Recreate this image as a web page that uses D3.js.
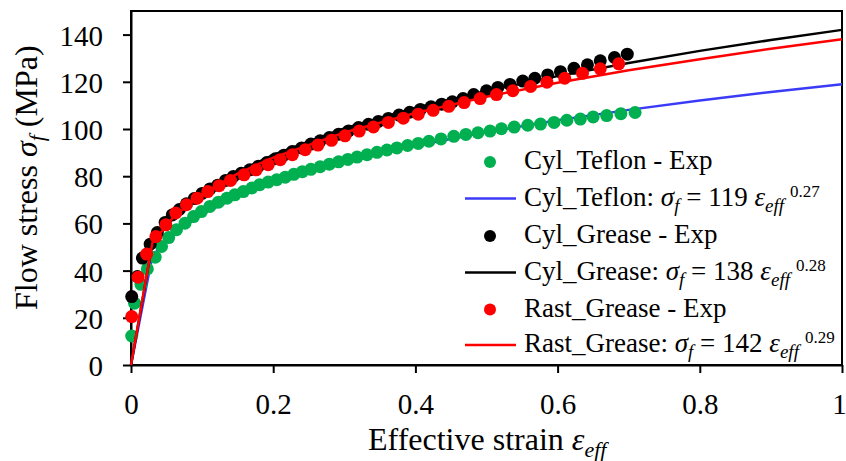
<!DOCTYPE html>
<html><head><meta charset="utf-8">
<script src="https://cdn.jsdelivr.net/npm/d3@7"></script>
<style>
html,body{margin:0;padding:0;background:#fff;}
svg{display:block;font-family:"Liberation Serif","Times New Roman",serif;}
</style></head>
<body><svg id="chart" width="846" height="461"></svg>
<script>
// ---- data ----
const xTicks = [0, 0.2, 0.4, 0.6, 0.8, 1];
const xTickLabels = ["0", "0.2", "0.4", "0.6", "0.8", "1"];
const yTicks = [0, 20, 40, 60, 80, 100, 120, 140];

const tefStrain = [0.001,0.005,0.014,0.023,0.034,0.043,0.053,0.064,0.076,0.088,0.099,0.111,0.123,0.135,0.146,0.158,0.170,0.181,0.193,0.205,0.217,0.229,0.241,0.253,0.266,0.279,0.292,0.305,0.318,0.332,0.346,0.360,0.374,0.389,0.404,0.419,0.436,0.454,0.471,0.488,0.505,0.521,0.539,0.558,0.576,0.595,0.613,0.632,0.650,0.669,0.689,0.709];
const tefStress = [12.3,26.2,34.2,40.7,45.7,50.2,54.0,57.3,60.1,62.9,65.0,67.2,69.0,70.7,72.1,73.5,75.0,76.4,77.5,78.5,79.6,80.8,81.9,82.9,84.0,85.1,86.1,87.1,88.1,89.1,90.1,91.1,92.0,93.0,93.9,94.8,95.8,96.9,97.7,98.4,99.1,100.1,100.8,101.6,102.1,102.8,103.7,104.2,105.1,105.7,106.5,107.0];

const cylStrain = [0.001,0.009,0.016,0.027,0.037,0.048,0.058,0.068,0.078,0.089,0.100,0.111,0.122,0.133,0.144,0.155,0.167,0.179,0.191,0.203,0.215,0.227,0.240,0.253,0.266,0.279,0.292,0.306,0.320,0.334,0.348,0.362,0.377,0.392,0.407,0.422,0.437,0.452,0.467,0.482,0.500,0.516,0.533,0.551,0.568,0.586,0.604,0.623,0.642,0.660,0.680,0.698];
const cylStress = [29.0,37.5,45.3,51.2,56.1,60.4,63.6,65.9,68.3,70.5,72.7,74.6,76.2,78.2,79.9,81.2,82.7,84.2,85.8,87.4,88.9,90.5,92.0,93.6,95.0,96.4,97.8,99.2,100.6,102.0,103.2,104.5,105.9,107.1,108.3,109.4,110.5,111.5,112.9,114.6,116.2,117.6,118.9,120.3,121.5,122.9,124.3,125.7,127.2,128.9,130.3,131.7];

const rastStrain = [0.001,0.010,0.022,0.035,0.049,0.063,0.078,0.093,0.108,0.124,0.140,0.159,0.176,0.193,0.210,0.227,0.245,0.263,0.282,0.301,0.321,0.341,0.362,0.383,0.404,0.425,0.447,0.4685,0.491,0.514,0.537,0.562,0.585,0.610,0.635,0.660,0.686];
const rastStress = [20.5,37.2,47.0,54.4,59.4,64.4,67.9,70.7,73.5,76.0,78.2,80.6,82.7,84.9,87.0,89.1,91.2,93.2,95.2,97.1,99.1,100.9,102.8,104.6,106.3,107.9,109.6,111.2,112.9,114.6,116.2,118.0,119.8,121.5,123.6,125.5,127.6];

const fitStrain = [0, 0.03, 0.06, 0.1, 0.15, 0.2, 0.3, 0.4, 0.5, 0.6, 0.7, 0.8, 0.9, 1.0];
const fitBlue  = [0, 46.2, 55.7, 63.9, 71.3, 77.1, 86.0, 92.9, 98.7, 103.7, 108.1, 112.1, 115.7, 119.0];
const fitBlack = [0, 51.4, 62.8, 72.8, 81.9, 89.0, 100.2, 108.9, 116.1, 122.4, 128.0, 133.1, 137.7, 142.0];
const fitRed   = [0, 51.7, 62.8, 72.4, 81.1, 87.9, 98.5, 106.8, 113.7, 119.6, 124.9, 129.6, 134.0, 138.0];

const legendNames = ["Cyl_Teflon - Exp", "Cyl_Teflon: ", "Cyl_Grease - Exp", "Cyl_Grease: ", "Rast_Grease - Exp", "Rast_Grease: "];
const legendK = [null, "119", null, "138", null, "142"];
const legendN = [null, "0.27", null, "0.28", null, "0.29"];

const GREEN = "#00b050", BLUE = "#3b3bf7", BLACK = "#000000", RED = "#ff0000";

// ---- chart ----
const svg = d3.select("#chart");
const L = 131, R = 842, T = 11, B = 365;
const x = d3.scaleLinear().domain([0, 1]).range([L, R]);
const y = d3.scaleLinear().domain([0, 150]).range([B, T]);

// frame
svg.append("rect").attr("x", L).attr("y", T).attr("width", R - L).attr("height", B - T)
  .attr("fill", "none").attr("stroke", "#000").attr("stroke-width", 2);

const xAxis = svg.append("g").attr("transform", `translate(0,${B})`)
  .call(d3.axisBottom(x).tickValues(xTicks).tickFormat((d, i) => xTickLabels[i]).tickSize(8).tickSizeOuter(0).tickPadding(20));
const yAxis = svg.append("g").attr("transform", `translate(${L},0)`)
  .call(d3.axisLeft(y).tickValues(yTicks).tickSize(8).tickSizeOuter(0).tickPadding(20));
[xAxis, yAxis].forEach(g => {
  g.selectAll("path").attr("stroke", "#000").attr("stroke-width", 2);
  g.selectAll("line").attr("stroke", "#000").attr("stroke-width", 2);
  g.selectAll("text").attr("font-family", "Liberation Serif").attr("font-size", 29).attr("fill", "#000");
});
yAxis.selectAll("text").attr("dy", "0.36em");
xAxis.selectAll(".tick").filter(d => d === 1).select("text").attr("dx", -3);

const pts = (xs, ys) => xs.map((v, i) => [v, ys[i]]);
const line = d3.line().x(d => x(d[0])).y(d => y(d[1]));
const R_PT = 6.5;

function dots(xs, ys, color) {
  svg.append("g").selectAll("circle").data(pts(xs, ys)).join("circle")
    .attr("cx", d => x(d[0])).attr("cy", d => y(d[1])).attr("r", R_PT).attr("fill", color);
}
function fit(ys, color) {
  svg.append("path").datum(pts(fitStrain, ys)).attr("d", line)
    .attr("fill", "none").attr("stroke", color).attr("stroke-width", 2.5);
}
fit(fitBlue, BLUE);
dots(tefStrain, tefStress, GREEN);
fit(fitBlack, BLACK);
dots(cylStrain, cylStress, BLACK);
fit(fitRed, RED);
dots(rastStrain, rastStress, RED);

// legend
const legColors = [GREEN, BLUE, BLACK, BLACK, RED, RED];
const legRowY = [162, 198.6, 236, 272.5, 309.5, 345];
const leg = svg.append("g");
legendNames.forEach((name, i) => {
  const cy = legRowY[i];
  if (i % 2 === 0) {
    leg.append("circle").attr("cx", 490).attr("cy", cy).attr("r", 6).attr("fill", legColors[i]);
    leg.append("text").attr("x", 524).attr("y", cy + 7).attr("font-size", 27).text(name);
  } else {
    leg.append("line").attr("x1", 465).attr("x2", 516).attr("y1", cy).attr("y2", cy)
      .attr("stroke", legColors[i]).attr("stroke-width", 2.5);
    const t = leg.append("text").attr("x", 524).attr("y", cy + 7).attr("font-size", 27);
    t.append("tspan").text(name);
    t.append("tspan").attr("font-style", "italic").text("σ");
    t.append("tspan").attr("font-style", "italic").attr("font-size", 19).attr("dy", 6).text("f");
    t.append("tspan").attr("dy", -6).text(" = " + legendK[i] + " ");
    t.append("tspan").attr("font-style", "italic").text("ε");
    t.append("tspan").attr("font-style", "italic").attr("font-size", 19).attr("dy", 6).text("eff");
    t.append("tspan").attr("font-size", 17).attr("dx", 6).attr("dy", -15).text(legendN[i]);
  }
});

// axis titles
const xt = svg.append("text").attr("x", 368).attr("y", 450).attr("font-size", 32);
xt.append("tspan").text("Effective strain ");
xt.append("tspan").attr("font-style", "italic").text("ε");
xt.append("tspan").attr("font-style", "italic").attr("font-size", 22).attr("dy", 7).text("eff");

const yt = svg.append("text").attr("transform", "translate(37,310) rotate(-90)").attr("font-size", 32);
yt.append("tspan").text("Flow stress ");
yt.append("tspan").attr("font-style", "italic").text("σ");
yt.append("tspan").attr("font-style", "italic").attr("font-size", 22).attr("dy", 7).text("f");
yt.append("tspan").attr("dy", -7).text(" (MPa)");
</script></body></html>
